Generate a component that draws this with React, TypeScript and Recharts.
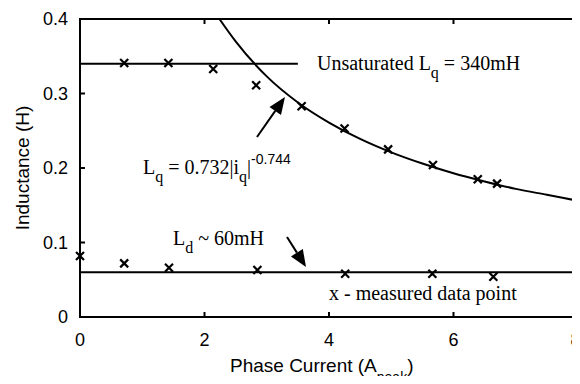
import { ComposedChart, Line, XAxis, YAxis } from "recharts";

const xTicks = [0, 2, 4, 6, 8];
const yTicks = [0, 0.1, 0.2, 0.3, 0.4];
const xInner = [2, 4, 6];
const yInner = [0.1, 0.2, 0.3];

// measured q-axis inductance (crosses)
const lqMeasured = [
  { x: 0.71, y: 0.341 },
  { x: 1.42, y: 0.341 },
  { x: 2.14, y: 0.333 },
  { x: 2.83, y: 0.311 },
  { x: 3.56, y: 0.283 },
  { x: 4.25, y: 0.253 },
  { x: 4.95, y: 0.225 },
  { x: 5.67, y: 0.204 },
  { x: 6.39, y: 0.185 },
  { x: 6.7, y: 0.179 },
];

// measured d-axis inductance (crosses)
const ldMeasured = [
  { x: 0, y: 0.082 },
  { x: 0.71, y: 0.072 },
  { x: 1.43, y: 0.066 },
  { x: 2.85, y: 0.063 },
  { x: 4.26, y: 0.058 },
  { x: 5.66, y: 0.058 },
  { x: 6.64, y: 0.054 },
];

// fitted curve
const lqFit = [
  { x: 2.24, y: 0.4 },
  { x: 2.5, y: 0.37 },
  { x: 3, y: 0.323 },
  { x: 3.5, y: 0.288 },
  { x: 4, y: 0.261 },
  { x: 4.5, y: 0.239 },
  { x: 5, y: 0.221 },
  { x: 5.5, y: 0.206 },
  { x: 6, y: 0.193 },
  { x: 6.5, y: 0.182 },
  { x: 7, y: 0.172 },
  { x: 7.5, y: 0.164 },
  { x: 8, y: 0.156 },
];

const lqUnsat = [
  { x: 0, y: 0.34 },
  { x: 3.5, y: 0.34 },
];

const ldLine = [
  { x: 0, y: 0.06 },
  { x: 8, y: 0.06 },
];

const W = 580;
const H = 384;
// plot box, shared by the chart margins and the frame
const PLOT = { left: 80, right: 578, top: 19, bottom: 317 };
const X_MAX = 8;
const Y_MAX = 0.4;
const sx = (v: number) => PLOT.left + (v / X_MAX) * (PLOT.right - PLOT.left);
const sy = (v: number) => PLOT.bottom - (v / Y_MAX) * (PLOT.bottom - PLOT.top);
const TICK = 5;

const SANS = "'Liberation Sans', Arial, sans-serif";
const SERIF = "'Liberation Serif', 'Times New Roman', serif";

const Cross = (props: any) => {
  const { cx, cy } = props;
  if (cx == null || cy == null) return null;
  const s = 4;
  return (
    <path
      d={`M${cx - s},${cy - s}L${cx + s},${cy + s}M${cx - s},${cy + s}L${cx + s},${cy - s}`}
      stroke="#000"
      strokeWidth={2.2}
      fill="none"
    />
  );
};

function Arrow({ x1, y1, x2, y2 }: { x1: number; y1: number; x2: number; y2: number }) {
  const a = Math.atan2(y2 - y1, x2 - x1);
  const len = 17;
  const w = 7;
  const bx = x2 - len * Math.cos(a);
  const by = y2 - len * Math.sin(a);
  const px = -Math.sin(a) * w;
  const py = Math.cos(a) * w;
  return (
    <g>
      <line x1={x1} y1={y1} x2={bx} y2={by} stroke="#000" strokeWidth={2} />
      <polygon
        points={`${x2},${y2} ${bx + px},${by + py} ${bx - px},${by - py}`}
        fill="#000"
      />
    </g>
  );
}

// frame + inward ticks as one path
const framePath = [
  `M${PLOT.left},${PLOT.top}H${PLOT.right}V${PLOT.bottom}H${PLOT.left}Z`,
  ...xInner.map((v) => `M${sx(v)},${PLOT.bottom}V${PLOT.bottom - TICK}M${sx(v)},${PLOT.top}V${PLOT.top + TICK}`),
  ...yInner.map((v) => `M${PLOT.left},${sy(v)}H${PLOT.left + TICK}M${PLOT.right},${sy(v)}H${PLOT.right - TICK}`),
].join("");

const tickStyle = { fontSize: 18, fill: "#000", fontFamily: SANS };

export default function App() {
  return (
    <div style={{ position: "relative", margin: -8, width: W, height: H, background: "#fff" }}>
      <ComposedChart
        width={W}
        height={H}
        margin={{ top: PLOT.top, right: W - PLOT.right, bottom: 0, left: 0 }}
      >
        <XAxis
          xAxisId="b"
          type="number"
          dataKey="x"
          domain={[0, X_MAX]}
          ticks={xTicks}
          height={H - PLOT.bottom}
          stroke="#000"
          axisLine={false}
          tickLine={false}
          tickSize={0}
          tickMargin={16}
          tick={tickStyle}
        />
        <YAxis
          yAxisId="l"
          type="number"
          domain={[0, Y_MAX]}
          ticks={yTicks}
          width={PLOT.left}
          stroke="#000"
          axisLine={false}
          tickLine={false}
          tickSize={0}
          tickMargin={12}
          tick={tickStyle}
        />
        <Line
          xAxisId="b"
          yAxisId="l"
          data={ldLine}
          dataKey="y"
          stroke="#000"
          strokeWidth={2}
          dot={false}
          isAnimationActive={false}
        />
        <Line
          xAxisId="b"
          yAxisId="l"
          data={lqUnsat}
          dataKey="y"
          stroke="#000"
          strokeWidth={2}
          dot={false}
          isAnimationActive={false}
        />
        <Line
          xAxisId="b"
          yAxisId="l"
          data={lqFit}
          dataKey="y"
          type="monotone"
          stroke="#000"
          strokeWidth={2}
          dot={false}
          isAnimationActive={false}
        />
        <Line
          xAxisId="b"
          yAxisId="l"
          data={lqMeasured}
          dataKey="y"
          stroke="none"
          dot={(p: any) => <Cross key={`q${p.index}`} {...p} />}
          activeDot={false}
          isAnimationActive={false}
        />
        <Line
          xAxisId="b"
          yAxisId="l"
          data={ldMeasured}
          dataKey="y"
          stroke="none"
          dot={(p: any) => <Cross key={`d${p.index}`} {...p} />}
          activeDot={false}
          isAnimationActive={false}
        />
      </ComposedChart>
      <svg
        width={W}
        height={H}
        style={{ position: "absolute", left: 0, top: 0, pointerEvents: "none", overflow: "visible" }}
      >
        <path d={framePath} fill="none" stroke="#000" strokeWidth={2} />
        <text
          transform="translate(29,168) rotate(-90)"
          textAnchor="middle"
          fontFamily={SANS}
          fontSize={19}
          fill="#000"
        >
          Inductance (H)
        </text>
        <text x={230} y={372} fontFamily={SANS} fontSize={19} fill="#000">
          Phase Current (A
          <tspan fontSize={14} dy={10}>peak</tspan>
          <tspan dy={-10}>)</tspan>
        </text>
        <text x={317} y={70} fontFamily={SERIF} fontSize={20} fill="#000">
          Unsaturated L
          <tspan fontSize={16} dy={8}>q</tspan>
          <tspan dy={-8}> = 340mH</tspan>
        </text>
        <text x={143} y={174} fontFamily={SERIF} fontSize={20} fill="#000">
          L<tspan fontSize={16} dy={8}>q</tspan>
          <tspan dy={-8}> = 0.732|i</tspan>
          <tspan fontSize={16} dy={8}>q</tspan>
          <tspan dy={-8}>|</tspan>
          <tspan fontSize={14} dy={-10} fontFamily={SANS}>-0.744</tspan>
        </text>
        <text x={173} y={245} fontFamily={SERIF} fontSize={20} fill="#000">
          L<tspan fontSize={16} dy={8}>d</tspan>
          <tspan dy={-8}> ~ 60mH</tspan>
        </text>
        <text x={329} y={300} fontFamily={SERIF} fontSize={20} fill="#000">
          x - measured data point
        </text>
        <Arrow x1={257} y1={137} x2={285} y2={97} />
        <Arrow x1={287} y1={237} x2={306} y2={267} />
      </svg>
    </div>
  );
}
